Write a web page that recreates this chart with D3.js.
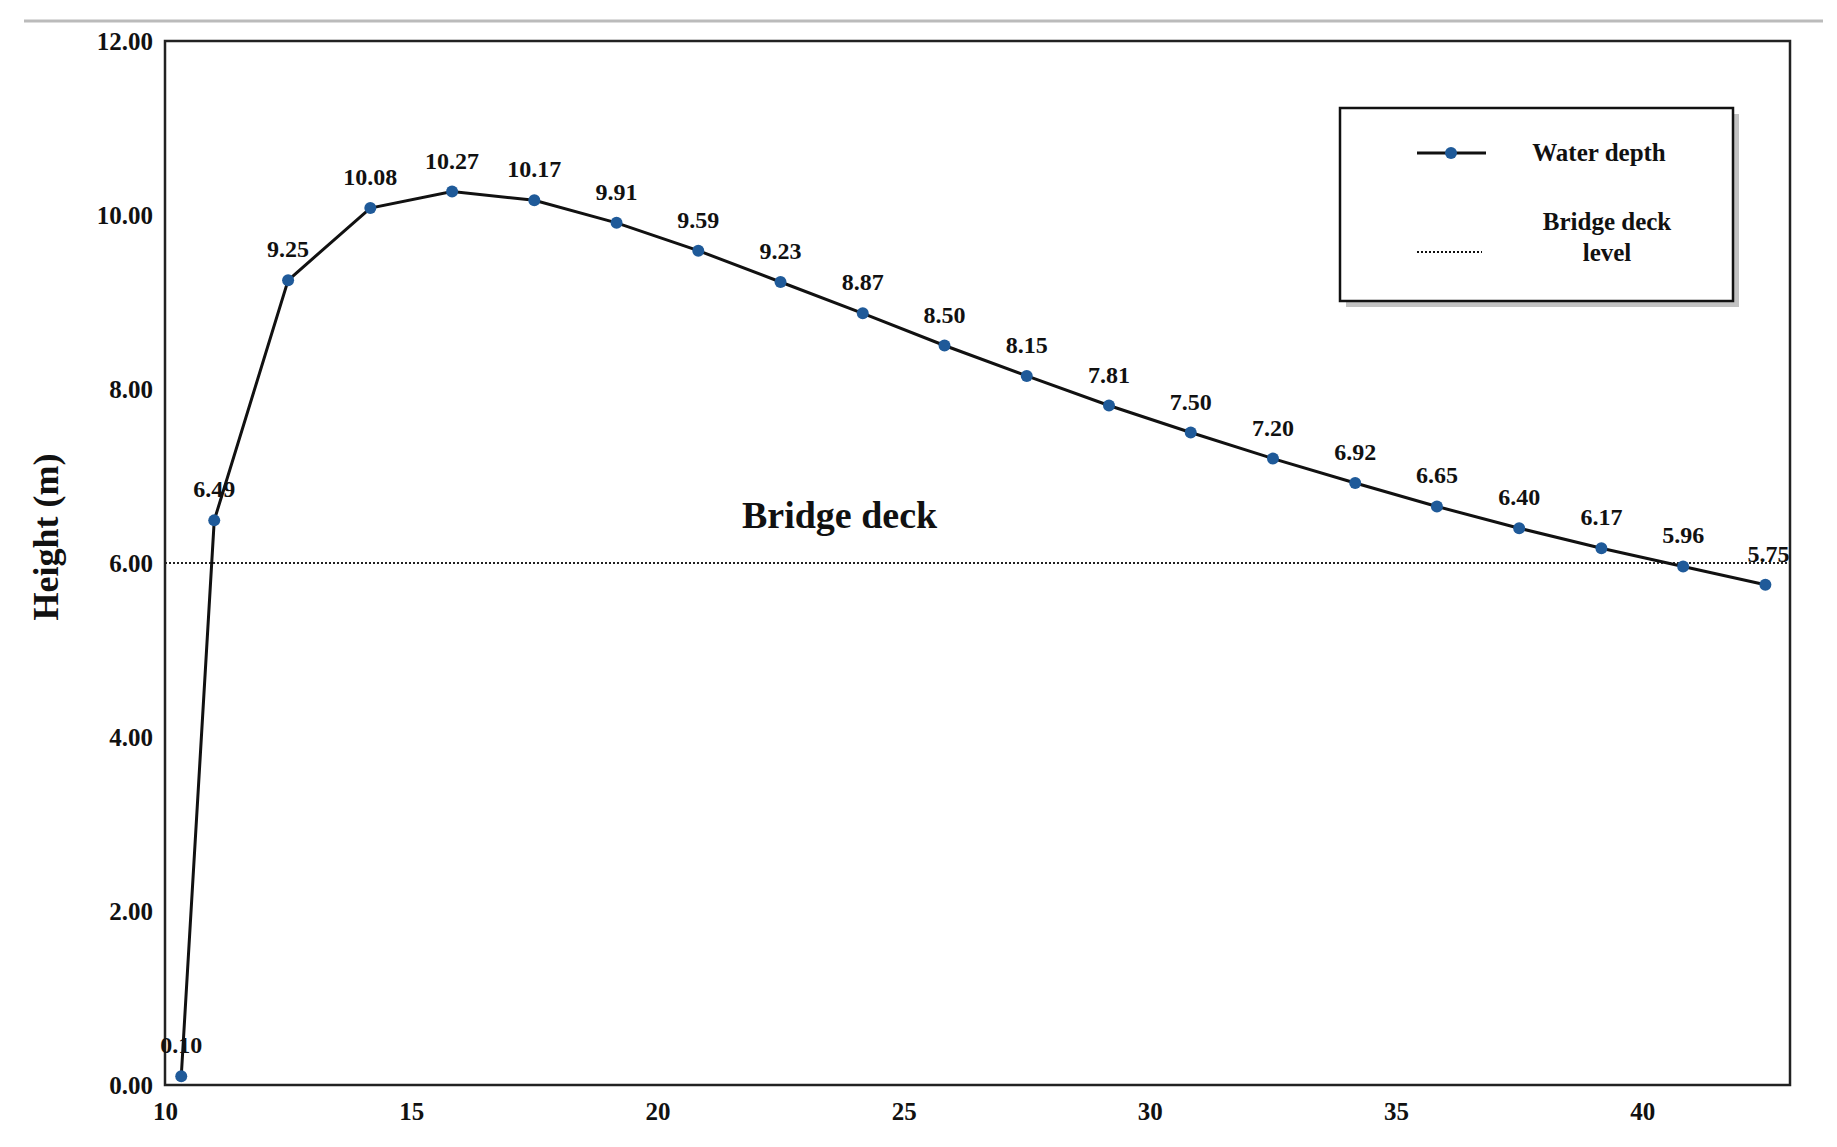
<!DOCTYPE html>
<html><head><meta charset="utf-8">
<script src="https://cdn.jsdelivr.net/npm/d3@7"></script>
<style>body{margin:0;background:#fff}text{font-family:"Liberation Serif","Times New Roman",serif;font-weight:bold}</style>
</head><body><svg id="c" width="1837" height="1147"></svg>
<script>
const xValues=[10.33,11,12.5,14.17,15.83,17.5,19.17,20.83,22.5,24.17,25.83,27.5,29.17,30.83,32.5,34.17,35.83,37.5,39.17,40.83,42.5];
const depth=[0.10,6.49,9.25,10.08,10.27,10.17,9.91,9.59,9.23,8.87,8.50,8.15,7.81,7.50,7.20,6.92,6.65,6.40,6.17,5.96,5.75];
const deckLevel=6;
const xTicks=[10,15,20,25,30,35,40];
const yTicks=[0,2,4,6,8,10,12];
const svg=d3.select("#c");
const L=165,R=1790,T=41,B=1085;
const x=d3.scaleLinear().domain([10,43]).range([L,R]);
const y=d3.scaleLinear().domain([0,12]).range([B,T]);
svg.append("line").attr("x1",24).attr("x2",1823).attr("y1",21).attr("y2",21).attr("stroke","#bbb").attr("stroke-width",3);
svg.append("rect").attr("x",L).attr("y",T).attr("width",R-L).attr("height",B-T).attr("fill","none").attr("stroke","#222").attr("stroke-width",2.5);
const ya=svg.append("g").attr("transform",`translate(${L},0)`).call(d3.axisLeft(y).tickValues(yTicks).tickSize(0).tickPadding(12).tickFormat(d3.format(".2f")));
ya.select(".domain").remove();
ya.selectAll("text").attr("font-size",25).attr("fill","#111");
const xa=svg.append("g").attr("transform",`translate(0,${B})`).call(d3.axisBottom(x).tickValues(xTicks).tickSize(0).tickPadding(17));
xa.select(".domain").remove();
xa.selectAll("text").attr("font-size",25).attr("fill","#111");
svg.append("text").attr("transform",`translate(58,${y(6.3)}) rotate(-90)`).attr("text-anchor","middle").attr("font-size",36).attr("fill","#111").text("Height (m)");
svg.append("line").attr("x1",L).attr("x2",R).attr("y1",y(deckLevel)).attr("y2",y(deckLevel)).attr("stroke","#222").attr("stroke-width",2).attr("stroke-dasharray","2,2");
svg.append("text").attr("x",x(23.7)).attr("y",y(6.4)).attr("text-anchor","middle").attr("font-size",38).attr("fill","#111").text("Bridge deck");
const data=xValues.map((v,i)=>({x:v,y:depth[i]}));
svg.append("path").datum(data).attr("d",d3.line().x(d=>x(d.x)).y(d=>y(d.y))).attr("fill","none").attr("stroke","#111").attr("stroke-width",3);
svg.selectAll("circle.p").data(data).enter().append("circle").attr("cx",d=>x(d.x)).attr("cy",d=>y(d.y)).attr("r",6).attr("fill","#1f5a99");
svg.selectAll("text.l").data(data).enter().append("text").attr("x",d=>x(d.x)+(d.x>42?3:0)).attr("y",d=>y(d.y)-23).attr("text-anchor","middle").attr("font-size",24).attr("fill","#111").text(d=>d.y.toFixed(2));
// legend
svg.append("rect").attr("x",1346).attr("y",114).attr("width",393).attr("height",193).attr("fill","#999").attr("opacity",0.6);
svg.append("rect").attr("x",1340).attr("y",108).attr("width",393).attr("height",193).attr("fill","#fff").attr("stroke","#111").attr("stroke-width",2.5);
svg.append("line").attr("x1",1417).attr("x2",1486).attr("y1",153).attr("y2",153).attr("stroke","#111").attr("stroke-width",3);
svg.append("circle").attr("cx",1451).attr("cy",153).attr("r",6).attr("fill","#1f5a99");
svg.append("text").attr("x",1599).attr("y",161).attr("text-anchor","middle").attr("font-size",25).attr("fill","#111").text("Water depth");
svg.append("line").attr("x1",1417).attr("x2",1482).attr("y1",252).attr("y2",252).attr("stroke","#111").attr("stroke-width",2).attr("stroke-dasharray","2,2");
svg.append("text").attr("x",1607).attr("y",230).attr("text-anchor","middle").attr("font-size",25).attr("fill","#111").text("Bridge deck");
svg.append("text").attr("x",1607).attr("y",261).attr("text-anchor","middle").attr("font-size",25).attr("fill","#111").text("level");
</script></body></html>
